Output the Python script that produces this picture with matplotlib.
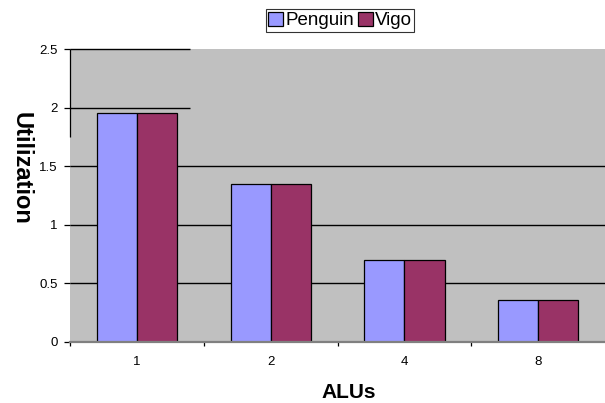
import numpy as np
import matplotlib.pyplot as plt

plt.rcParams['font.family'] = ['Liberation Sans', 'DejaVu Sans']

alus = ["1", "2", "4", "8"]
penguin = [1.95, 1.35, 0.70, 0.36]
vigo = [1.95, 1.35, 0.70, 0.36]
yticks = [0, 0.5, 1, 1.5, 2, 2.5]

fig = plt.figure(figsize=(6.05, 4.03), dpi=100)
ax = fig.add_axes([70 / 605, 1 - 342 / 403, 535 / 605, 293 / 403])
ax.set_facecolor("#C0C0C0")

x = np.arange(len(alus))
w = 0.3

# gridlines (upper ones only partly drawn, as in the original export)
for yv in [0.5, 1.0, 1.5]:
    ax.hlines(yv, -0.5, 3.5, color="black", linewidth=1.0, zorder=1)
for yv in [2.0, 2.5]:
    ax.hlines(yv, -0.5, 0.397, color="black", linewidth=1.0, zorder=1, clip_on=False)

ax.bar(x - w / 2, penguin, width=w, color="#9999FF", edgecolor="black",
       linewidth=0.9, label="Penguin", zorder=2)
ax.bar(x + w / 2, vigo, width=w, color="#993366", edgecolor="black",
       linewidth=0.9, label="Vigo", zorder=2)

ax.set_xlim(-0.5, 3.5)
ax.set_ylim(0, 2.5)

for s in ["top", "right", "left"]:
    ax.spines[s].set_visible(False)
ax.spines["bottom"].set_color("#808080")
ax.spines["bottom"].set_linewidth(1.6)
ax.vlines(-0.5, 1.75, 2.5, color="black", linewidth=0.9, clip_on=False, zorder=3)

ax.set_yticks(yticks)
ax.set_yticklabels(["0", "0.5", "1", "1.5", "2", "2.5"], fontsize=9.5)
ax.tick_params(axis="y", length=4, width=0.9, pad=5)

ax.set_xticks(x)
ax.set_xticklabels(alus, fontsize=9.5)
ax.tick_params(axis="x", which="major", length=0, pad=10)
ax.set_xticks([-0.5, 0.5, 1.5, 2.5], minor=True)
ax.tick_params(axis="x", which="minor", length=3, width=0.9, color="black")

fig.text(21 / 605, 1 - 168 / 403, "Utilization", rotation=270, fontsize=17,
         fontweight="bold", ha="center", va="center")
fig.text(349 / 605, 1 - 392 / 403, "ALUs", fontsize=15, fontweight="bold",
         ha="center", va="center")

leg = fig.legend(loc="center", bbox_to_anchor=(340 / 605, 1 - 20.5 / 403), ncol=2,
                 fontsize=13.5, frameon=True, fancybox=False, edgecolor="black",
                 handlelength=0.8, handleheight=0.8, handletextpad=0.1,
                 columnspacing=0.2, borderpad=0.12, borderaxespad=0)
leg.get_frame().set_linewidth(0.8)

fig.savefig("out.png", dpi=100)
